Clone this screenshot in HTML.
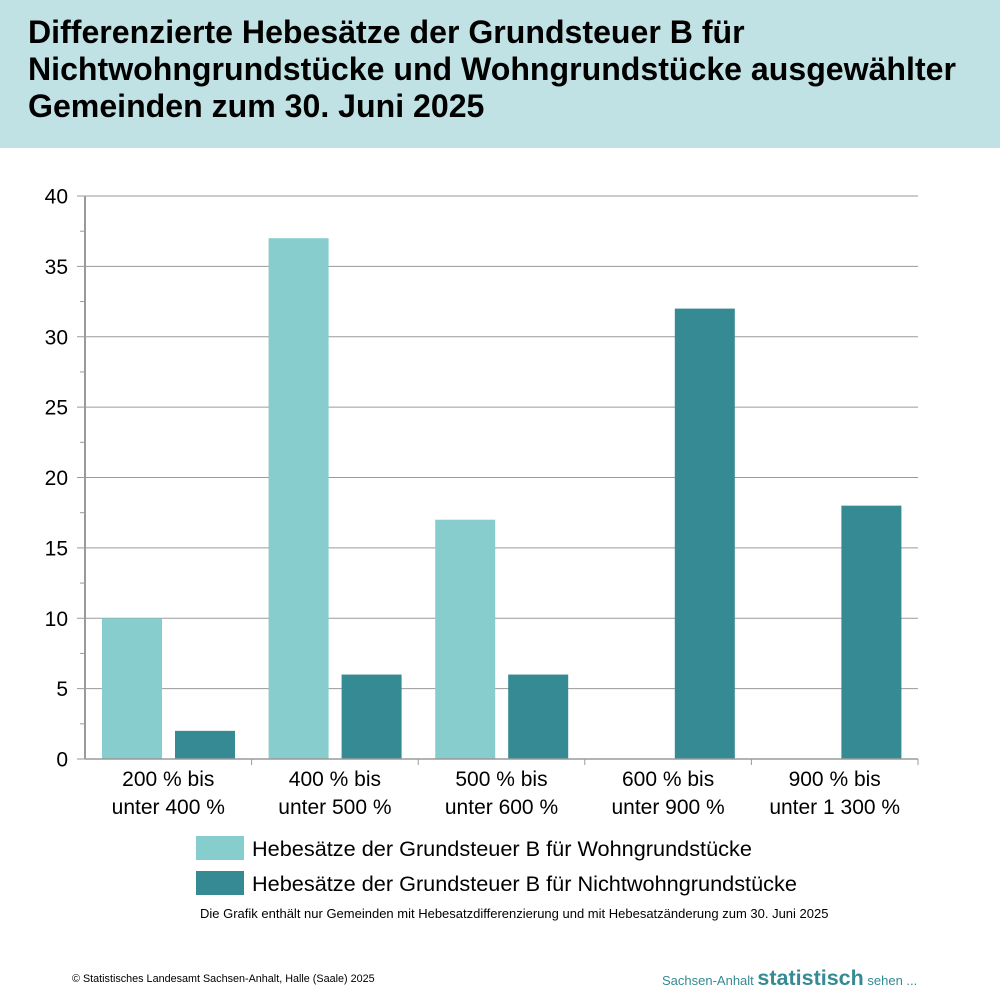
<!DOCTYPE html>
<html><head><meta charset="utf-8"><style>
body{margin:0;width:1000px;height:1000px;background:#fff;font-family:"Liberation Sans",Arial,sans-serif;position:relative;overflow:hidden}
#hdr{position:absolute;left:0;top:0;width:1000px;height:148px;background:#c0e2e4}
#hdr h1{position:absolute;left:28px;top:14px;margin:0;font-size:32.1px;line-height:37px;font-weight:bold;color:#000;white-space:nowrap}
.leg{position:absolute;left:196px;font-size:21.7px;color:#000;white-space:nowrap}
.sw{position:absolute;left:196px;width:48px;height:24px}
</style></head><body>
<div id="hdr"><h1>Differenzierte Hebesätze der Grundsteuer B für<br>Nichtwohngrundstücke und Wohngrundstücke ausgewählter<br>Gemeinden zum 30. Juni 2025</h1></div>
<svg id="chart" width="1000" height="830" style="position:absolute;left:0;top:0"></svg>
<div class="sw" style="top:836px;background:#88cdcd"></div>
<div class="leg" style="left:252px;top:836px">Hebesätze der Grundsteuer B für Wohngrundstücke</div>
<div class="sw" style="top:871px;background:#358a93"></div>
<div class="leg" style="left:252px;top:871px">Hebesätze der Grundsteuer B für Nichtwohngrundstücke</div>
<div style="position:absolute;left:200px;top:906px;font-size:13px;white-space:nowrap">Die Grafik enthält nur Gemeinden mit Hebesatzdifferenzierung und mit Hebesatzänderung zum 30. Juni 2025</div>
<div style="position:absolute;left:72px;top:973px;font-size:10.8px">© Statistisches Landesamt Sachsen-Anhalt, Halle (Saale) 2025</div>
<div style="position:absolute;left:662px;top:966px;font-size:13px;color:#358a93;white-space:nowrap">Sachsen-Anhalt <b style="font-size:21.5px">statistisch</b> sehen ...</div>
<script>
const categories1=["200 % bis","400 % bis","500 % bis","600 % bis","900 % bis"];
const categories2=["unter 400 %","unter 500 %","unter 600 %","unter 900 %","unter 1 300 %"];
const wohn=[10,37,17,0,0];
const nichtwohn=[2,6,6,32,18];
const yTicks=[0,5,10,15,20,25,30,35,40];
const NS="http://www.w3.org/2000/svg";
const svg=document.getElementById('chart');
const x0=85,x1=918,yb=759,yt=196,ymax=40;
const y=v=>yb-(v/ymax)*(yb-yt);
const gw=(x1-x0)/categories1.length;
function mk(t,a){const e=document.createElementNS(NS,t);for(const k in a)e.setAttribute(k,a[k]);svg.appendChild(e);return e;}
for(let i=0;i<yTicks.length;i++){const v=yTicks[i];
 const g=mk('line',{x1:77,x2:x1,y1:y(v),y2:y(v),stroke:'#9a9a9a','stroke-width':1});
 
 
 const t=mk('text',{x:68,y:y(v)+7.5,'text-anchor':'end','font-size':21,'font-family':'Liberation Sans'});t.textContent=v;
 
 
 if(i<yTicks.length-1){const m=mk('line',{x1:80,x2:x0,y1:y(v+2.5),y2:y(v+2.5),stroke:'#9a9a9a'});
 
 }
}
categories1.forEach((c,i)=>{const gx=x0+i*gw;
 const b1=mk('rect',{x:gx+17,y:y(wohn[i]),width:60,height:yb-y(wohn[i]),fill:'#88cdcd'});
 
 
 const b2=mk('rect',{x:gx+90,y:y(nichtwohn[i]),width:60,height:yb-y(nichtwohn[i]),fill:'#358a93'});
 
 
 const tk=mk('line',{x1:gx+gw,x2:gx+gw,y1:yb,y2:yb+6,stroke:'#9a9a9a'});
 
 
 const t=mk('text',{x:gx+gw/2,y:786,'text-anchor':'middle','font-size':21,'font-family':'Liberation Sans'});t.textContent=c;
 
 
 const t2=mk('text',{x:gx+gw/2,y:814,'text-anchor':'middle','font-size':21,'font-family':'Liberation Sans'});t2.textContent=categories2[i];
 
 
});
const ax=mk('line',{x1:x0,x2:x0,y1:yt,y2:yb,stroke:'#9a9a9a','stroke-width':2});


const xa=mk('line',{x1:x0,x2:x1,y1:yb,y2:yb,stroke:'#9a9a9a','stroke-width':1.5});


</script>
</body></html>
